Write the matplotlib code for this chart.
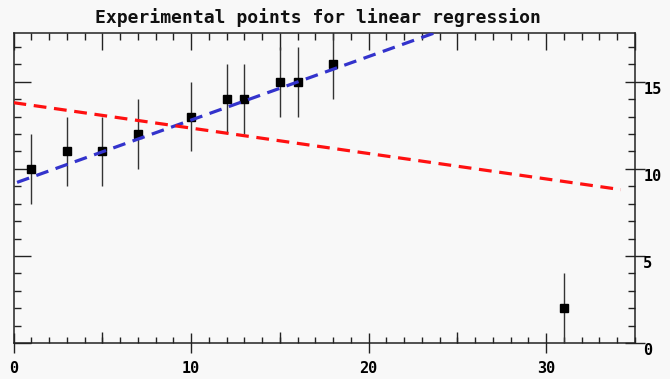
import matplotlib
matplotlib.use("Agg")
import matplotlib.pyplot as plt
from matplotlib.ticker import MultipleLocator, FixedLocator, NullFormatter
import numpy as np

# ---- data ----
x_points = [1, 3, 5, 7, 10, 12, 13, 15, 16, 18, 31]
y_points = [10, 11, 11, 12, 13, 14, 14, 15, 15, 16, 2]
y_err = [2, 2, 2, 2, 2, 2, 2, 2, 2, 2, 2]

# regression lines (intercept, slope, x-range)
blue_intercept, blue_slope = 9.15, 0.365
blue_xrange = [0.2, 25.0]
red_intercept, red_slope = 13.8, -0.146
red_xrange = [0.0, 34.2]

x_ticklabels = ["0", "10", "20", "30"]
y_ticklabels = ["0", "5", "10", "15"]
title = "Experimental points for linear regression"

bg = "#f8f8f8"
font = ["DejaVu Sans Mono"]

fig = plt.figure(figsize=(6.7, 3.79), dpi=100, facecolor=bg)
ax = fig.add_axes([13.5 / 670, 1 - 343 / 379, (635 - 13.5) / 670, (343 - 33) / 379])
ax.set_facecolor(bg)
ax.set_xlim(0, 35)
ax.set_ylim(0, 17.8)

# error bars and points
ax.errorbar(x_points, y_points, yerr=y_err, fmt="s", color="black",
            ecolor="#333333", elinewidth=1.0, capsize=0, markersize=6.3,
            zorder=3, clip_on=True)

# regression lines
bx = np.array(blue_xrange)
ax.plot(bx, blue_intercept + blue_slope * bx, color="#3333cc", lw=2.3,
        linestyle=(0, (4, 2.4)), zorder=4)
rx = np.array(red_xrange)
ax.plot(rx, red_intercept + red_slope * rx, color="#ff1010", lw=2.3,
        linestyle=(0, (4, 2.4)), zorder=4)

for s in ax.spines.values():
    s.set_linewidth(1.1)
    s.set_color("#222222")

# bottom axis: crossing ticks at 0,10,20,30 with labels; short minor ticks every 1
ax.xaxis.set_major_locator(FixedLocator([0, 10, 20, 30]))
ax.set_xticklabels(x_ticklabels, fontfamily=font, fontweight="bold", fontsize=11)
ax.xaxis.set_minor_locator(MultipleLocator(1))
ax.tick_params(axis="x", which="major", direction="inout", length=14, width=1,
               pad=6, color="#222222", bottom=True, top=False)
ax.tick_params(axis="x", which="minor", direction="in", length=4, width=1,
               color="#222222", bottom=True, top=False)
# medium ticks at 5, 15, 25 on bottom
sb = ax.secondary_xaxis("bottom")
sb.xaxis.set_major_locator(FixedLocator([5, 15, 25]))
sb.xaxis.set_major_formatter(NullFormatter())
sb.tick_params(direction="in", length=8, width=1, color="#222222")
sb.spines["bottom"].set_visible(False)

# top axis ticks
st = ax.secondary_xaxis("top")
st.xaxis.set_major_locator(MultipleLocator(5))
st.xaxis.set_minor_locator(MultipleLocator(1))
st.xaxis.set_major_formatter(NullFormatter())
st.tick_params(which="major", direction="in", length=12, width=1, color="#222222")
st.tick_params(which="minor", direction="in", length=5, width=1, color="#222222")
st.spines["top"].set_visible(False)

# right axis: labels + crossing ticks at multiples of 5
ax.yaxis.tick_right()
ax.yaxis.set_major_locator(FixedLocator([0, 5, 10, 15]))
ax.set_yticklabels(y_ticklabels, fontfamily=font, fontweight="bold", fontsize=11)
ax.yaxis.set_minor_locator(MultipleLocator(1))
ax.tick_params(axis="y", which="major", direction="inout", length=14, width=1,
               pad=-1, color="#222222", right=True, left=False)
ax.tick_params(axis="y", which="minor", direction="in", length=5, width=1,
               color="#222222", right=True, left=False)
for lab in ax.get_yticklabels():
    lab.set_verticalalignment("top")

# left axis ticks
sl = ax.secondary_yaxis("left")
sl.yaxis.set_major_locator(MultipleLocator(5))
sl.yaxis.set_minor_locator(MultipleLocator(1))
sl.yaxis.set_major_formatter(NullFormatter())
sl.tick_params(which="major", direction="in", length=12, width=1, color="#222222")
sl.tick_params(which="minor", direction="in", length=5, width=1, color="#222222")
sl.spines["left"].set_visible(False)

fig.text(0.475, 1 - 18 / 379, title, ha="center", va="center",
         fontfamily=font, fontweight="bold", fontsize=13, color="#111111")

fig.savefig("out.png", dpi=100, facecolor=bg)
